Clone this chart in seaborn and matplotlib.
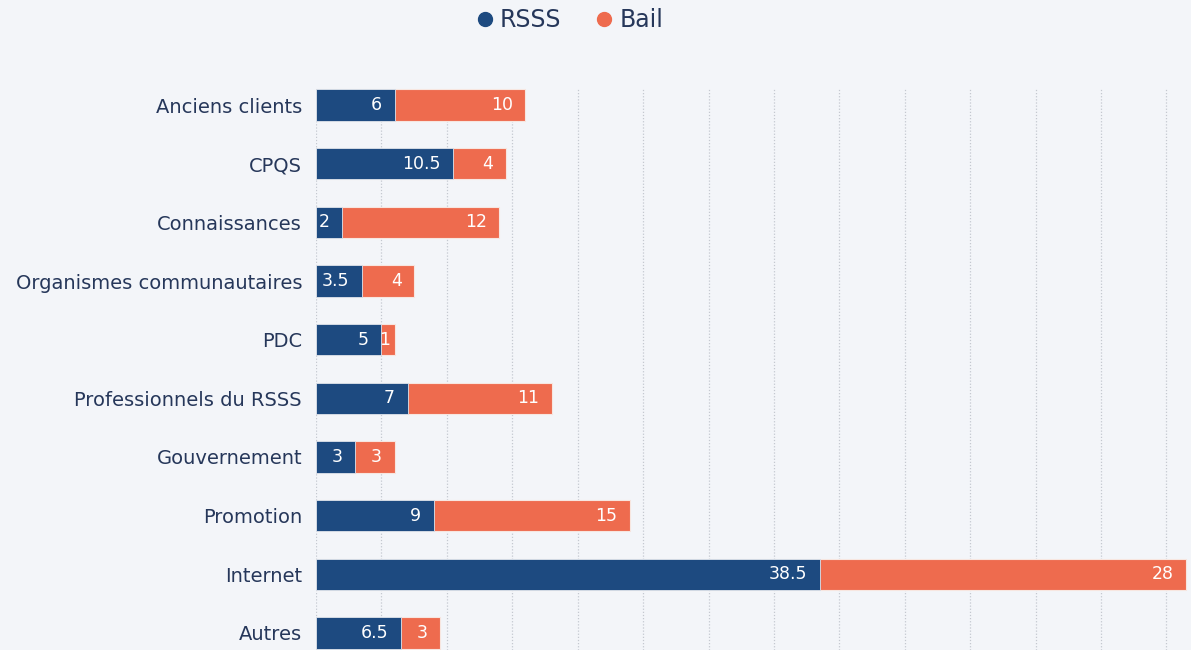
import matplotlib
matplotlib.use("Agg")
import matplotlib.pyplot as plt
import seaborn as sns
import pandas as pd
from matplotlib.lines import Line2D

categories = ["Anciens clients", "CPQS", "Connaissances", "Organismes communautaires",
              "PDC", "Professionnels du RSSS", "Gouvernement", "Promotion",
              "Internet", "Autres"]
rsss = [6, 10.5, 2, 3.5, 5, 7, 3, 9, 38.5, 6.5]
bail = [10, 4, 12, 4, 1, 11, 3, 15, 28, 3]
series_names = ["RSSS", "Bail"]

BG = "#f3f5f9"
NAVY = "#1d4a80"
ORANGE = "#ee6b4e"
TEXT = "#26375a"

df = pd.DataFrame({"cat": categories, "RSSS": rsss, "Bail": bail})
df["total"] = df["RSSS"] + df["Bail"]

sns.set_theme(style="white")
plt.rcParams["font.family"] = ["DejaVu Sans"]

fig = plt.figure(figsize=(11.91, 6.5), dpi=100, facecolor=BG)
ax = fig.add_axes([316 / 1191, 0, (1190 - 316) / 1191, (650 - 88) / 650])
ax.set_facecolor(BG)

# Stacked bars: full total in orange, RSSS segment drawn over it
sns.barplot(data=df, y="cat", x="total", color=ORANGE, saturation=1, width=0.53,
            edgecolor="#f7e6e0", linewidth=0.8, ax=ax, orient="h")
sns.barplot(data=df, y="cat", x="RSSS", color=NAVY, saturation=1, width=0.53,
            edgecolor="#dfe5ee", linewidth=0.6, ax=ax, orient="h")

total_bars = ax.containers[0]
rsss_bars = ax.containers[1]
for bars, vals in ((total_bars, df["Bail"]), (rsss_bars, df["RSSS"])):
    texts = ax.bar_label(bars, labels=[f"{v:g}" for v in vals], label_type="edge",
                         padding=-9, color="white", fontsize=12.5)
    for t, v in zip(texts, vals):
        t.set_horizontalalignment("right")
        if v < 2:
            # narrow segment: keep the label tucked inside it
            t.xyann = (-3, t.xyann[1])

ax.set_xlim(0, 66.8)
ax.set_ylim(9.29, -0.29)
ax.set_xticks(range(0, 70, 5))
ax.set_xticklabels([])
ax.tick_params(axis="x", length=0)
ax.tick_params(axis="y", length=0, pad=10, labelsize=14, labelcolor=TEXT)
ax.grid(axis="x", color="#c4c8d0", linestyle=(0, (1, 1.5)), linewidth=0.9)
ax.set_axisbelow(True)
ax.set_xlabel("")
ax.set_ylabel("")
for s in ax.spines.values():
    s.set_visible(False)

handles = [Line2D([], [], marker="o", linestyle="", markersize=10, color=c)
           for c in (NAVY, ORANGE)]
fig.legend(handles, series_names, loc="center", bbox_to_anchor=(568 / 1191, 1 - 20 / 650),
           ncol=2, frameon=False, fontsize=17, labelcolor=TEXT, handlelength=1.0,
           handletextpad=0.15, columnspacing=1.3)

fig.savefig("out.png", dpi=100, facecolor=BG)
